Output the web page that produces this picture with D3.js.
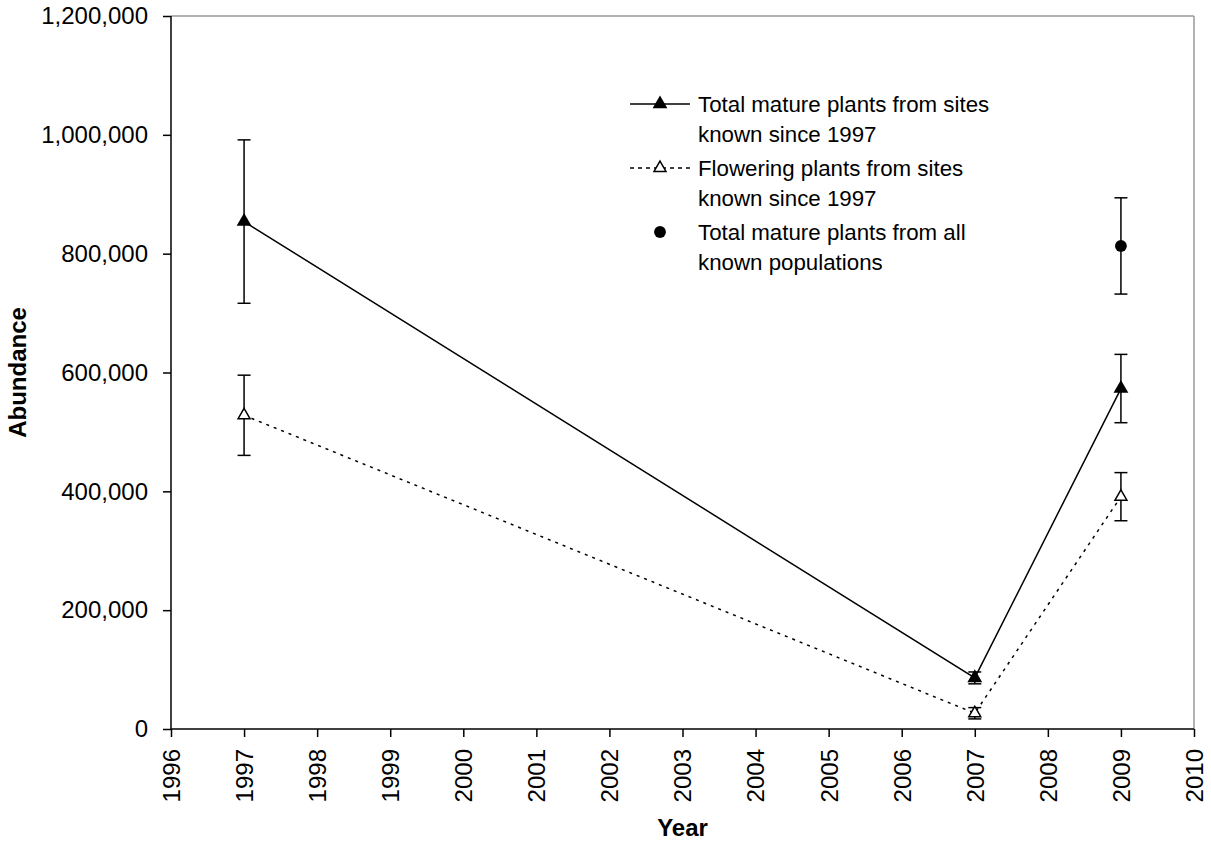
<!DOCTYPE html>
<html>
<head>
<meta charset="utf-8">
<script src="https://cdn.jsdelivr.net/npm/d3@7"></script>
<style>
  body { margin: 0; background: #fff; }
  text { font-family: Arial, "Liberation Sans", sans-serif; fill: #000; }
</style>
</head>
<body>
<div id="chart-area"></div>
<script>

// data
let totalYears = [1997, 2007, 2009];
let totalValues = [854000, 86000, 573000];
let totalErr = [137500, 10000, 57500];

let flowerYears = [1997, 2007, 2009];
let flowerValues = [528000, 26500, 391000];
let flowerErr = [67500, 9500, 40500];

let allYears = [2009];
let allValues = [813000];
let allErr = [81000];

let yTicks = [0, 200000, 400000, 600000, 800000, 1000000, 1200000];
let xTicks = d3.range(1996, 2011);

let legendLabels = [
	["Total mature plants from sites", "known since 1997"],
	["Flowering plants from sites", "known since 1997"],
	["Total mature plants from all", "known populations"]
];

/////////////////////////
// SVG drawing area
/////////////////////////

let margin = {top: 16, right: 17, bottom: 115, left: 171};

let width = 1211 - margin.left - margin.right,
		height = 844 - margin.top - margin.bottom;

let svg = d3.select("#chart-area").append("svg")
		.attr("width", 1211)
		.attr("height", 844)
	.append("g")
		.attr("transform", "translate(" + margin.left + "," + margin.top + ")");

let x = d3.scaleLinear()
	.domain([1996, 2010])
	.range([0, width]);

let y = d3.scaleLinear()
	.domain([0, 1200000])
	.range([height, 0]);

let formatThousands = d3.format(",");

// top and right border (grey)
svg.append("line")
	.attr("x1", 0).attr("x2", width)
	.attr("y1", 0).attr("y2", 0)
	.attr("stroke", "#999").attr("stroke-width", 1.5);
svg.append("line")
	.attr("x1", width).attr("x2", width)
	.attr("y1", 0).attr("y2", height)
	.attr("stroke", "#999").attr("stroke-width", 1.5);

// axes
let yAxis = d3.axisLeft(y)
	.tickValues(yTicks)
	.tickFormat(formatThousands)
	.tickSize(8)
	.tickPadding(15);

let xAxis = d3.axisBottom(x)
	.tickValues(xTicks)
	.tickFormat(d3.format("d"))
	.tickSize(8);

let yAxisGroup = svg.append("g")
	.attr("class", "y-axis")
	.call(yAxis);

let xAxisGroup = svg.append("g")
	.attr("class", "x-axis")
	.attr("transform", "translate(0," + height + ")")
	.call(xAxis);

yAxisGroup.select(".domain").attr("d", "M0,0V" + height);
xAxisGroup.select(".domain").attr("d", "M0,0H" + width);
svg.selectAll(".domain").attr("stroke", "#000").attr("stroke-width", 1.5);
svg.selectAll(".tick line").attr("stroke", "#000").attr("stroke-width", 1.5);

yAxisGroup.selectAll("text")
	.attr("font-size", 24)
	.style("font-family", "Arial, 'Liberation Sans', sans-serif");

xAxisGroup.selectAll("text")
	.attr("font-size", 24)
	.style("font-family", "Arial, 'Liberation Sans', sans-serif")
	.attr("transform", "rotate(-90)")
	.attr("text-anchor", "end")
	.attr("x", -20)
	.attr("y", 0)
	.attr("dy", "0.35em");

// axis titles
svg.append("text")
	.attr("transform", "translate(" + (-153) + "," + (height / 2) + ") rotate(-90)")
	.attr("text-anchor", "middle")
	.attr("dy", "0.35em")
	.attr("font-size", 24)
	.attr("font-weight", "bold")
	.text("Abundance");

svg.append("text")
	.attr("x", width / 2)
	.attr("y", height + 107)
	.attr("text-anchor", "middle")
	.attr("font-size", 24)
	.attr("font-weight", "bold")
	.text("Year");

// build series
function zipSeries(years, values, errs) {
	return years.map((yr, i) => ({year: yr, value: values[i], err: errs[i]}));
}
let total = zipSeries(totalYears, totalValues, totalErr);
let flower = zipSeries(flowerYears, flowerValues, flowerErr);
let allPops = zipSeries(allYears, allValues, allErr);

const line = d3.line()
	.x(d => x(d.year))
	.y(d => y(d.value));

// error bars
function drawErrors(data) {
	let g = svg.append("g");
	data.forEach(d => {
		let cx = x(d.year);
		g.append("line")
			.attr("x1", cx).attr("x2", cx)
			.attr("y1", y(d.value - d.err)).attr("y2", y(d.value + d.err))
			.attr("stroke", "#000").attr("stroke-width", 1.5);
		[d.value - d.err, d.value + d.err].forEach(v => {
			g.append("line")
				.attr("x1", cx - 6.5).attr("x2", cx + 6.5)
				.attr("y1", y(v)).attr("y2", y(v))
				.attr("stroke", "#000").attr("stroke-width", 1.5);
		});
	});
}
drawErrors(total);
drawErrors(flower);
drawErrors(allPops);

svg.append("path")
	.datum(flower)
	.attr("d", line)
	.attr("fill", "none")
	.attr("stroke", "#000")
	.attr("stroke-width", 1.5)
	.attr("stroke-dasharray", "3,5");

svg.append("path")
	.datum(total)
	.attr("d", line)
	.attr("fill", "none")
	.attr("stroke", "#000")
	.attr("stroke-width", 1.5);

let filledTri = d3.symbol().type(d3.symbolTriangle).size(95);
let openTri = d3.symbol().type(d3.symbolTriangle).size(62);
let dot = d3.symbol().type(d3.symbolCircle).size(110);

svg.selectAll(".tri-total")
	.data(total)
	.enter()
	.append("path")
	.attr("class", "tri-total")
	.attr("d", filledTri)
	.attr("transform", d => "translate(" + x(d.year) + "," + y(d.value) + ")")
	.attr("fill", "#000");

svg.selectAll(".tri-flower")
	.data(flower)
	.enter()
	.append("path")
	.attr("class", "tri-flower")
	.attr("d", openTri)
	.attr("transform", d => "translate(" + x(d.year) + "," + y(d.value) + ")")
	.attr("fill", "#fff")
	.attr("stroke", "#000")
	.attr("stroke-width", 1.5);

svg.selectAll(".dot-all")
	.data(allPops)
	.enter()
	.append("path")
	.attr("class", "dot-all")
	.attr("d", dot)
	.attr("transform", d => "translate(" + x(d.year) + "," + y(d.value) + ")")
	.attr("fill", "#000");

// legend
let legend = svg.append("g")
	.attr("transform", "translate(" + (630 - margin.left) + "," + (104 - margin.top) + ")");

let rowGap = 64, lineGap = 30;

legendLabels.forEach((lines, i) => {
	let row = legend.append("g").attr("transform", "translate(0," + (i * rowGap) + ")");
	if (i < 2) {
		row.append("line")
			.attr("x1", 0).attr("x2", 60)
			.attr("y1", 0).attr("y2", 0)
			.attr("stroke", "#000")
			.attr("stroke-width", 1.5)
			.attr("stroke-dasharray", i === 1 ? "4,4" : null);
	}
	let sym = i === 0 ? filledTri : (i === 1 ? openTri : dot);
	row.append("path")
		.attr("d", sym)
		.attr("transform", "translate(30,0)")
		.attr("fill", i === 1 ? "#fff" : "#000")
		.attr("stroke", i === 1 ? "#000" : "none")
		.attr("stroke-width", 1.5);
	lines.forEach((t, j) => {
		row.append("text")
			.attr("x", 68)
			.attr("y", j * lineGap)
			.attr("dy", "0.35em")
			.attr("font-size", 22.3)
			.text(t);
	});
});

</script>
</body>
</html>
